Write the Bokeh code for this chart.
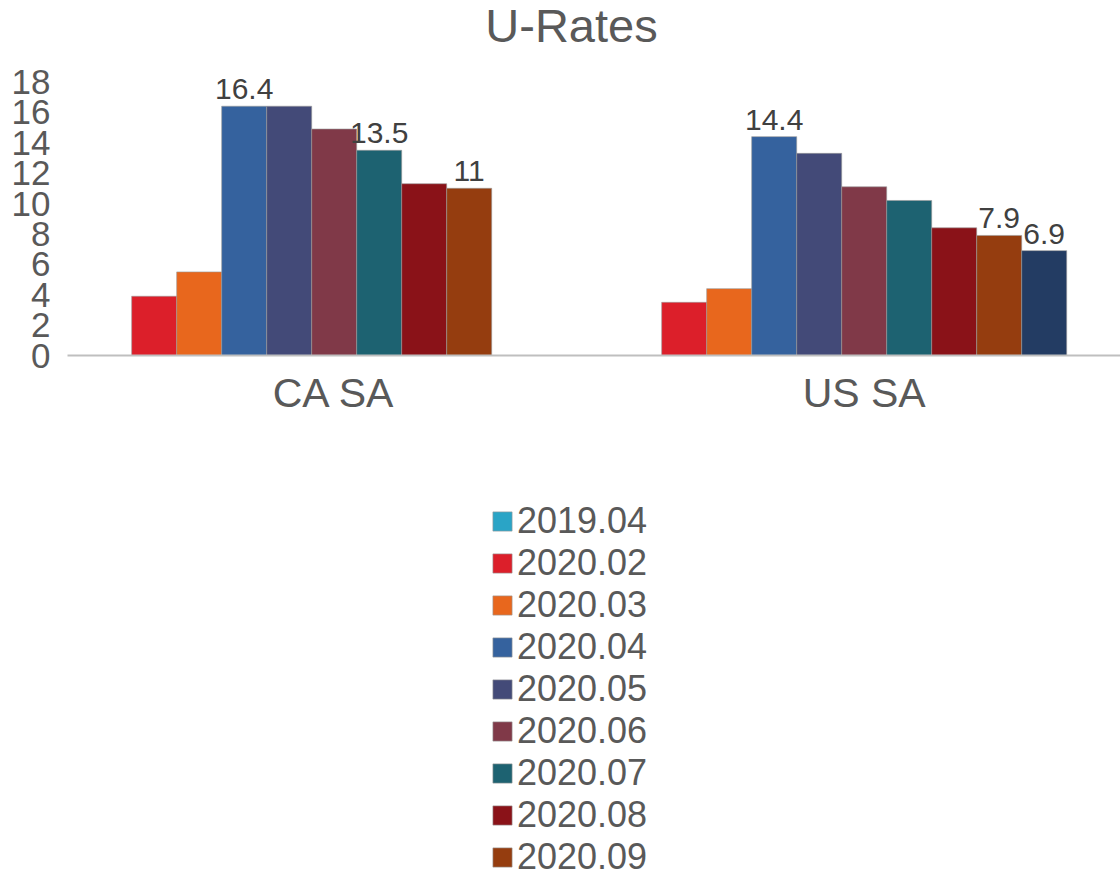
from bokeh.plotting import figure
from bokeh.models import (ColumnDataSource, Range1d, FixedTicker, Legend, LegendItem,
                          Label)
from bokeh.core.properties import value
from bokeh.embed import file_html
from bokeh.resources import INLINE

# ---- data -------------------------------------------------------------
categories = ["CA SA", "US SA"]
series = ["2019.04", "2020.02", "2020.03", "2020.04", "2020.05", "2020.06",
          "2020.07", "2020.08", "2020.09", "2020.10", "2020.11"]
ca_sa = [None, 3.9, 5.5, 16.4, 16.4, 14.9, 13.5, 11.3, 11.0, None, None]
us_sa = [None, 3.5, 4.4, 14.4, 13.3, 11.1, 10.2, 8.4, 7.9, 6.9, None]
colors = ["#2aa4c6", "#dc1f2a", "#e8671d", "#35629e", "#434a78", "#803948",
          "#1d6271", "#8a1218", "#953d0f", "#233c63", "#5f8f3c"]
y_ticks = [0, 2, 4, 6, 8, 10, 12, 14, 16, 18]
# bars that carry a value label: (category, series)
labelled = [("CA SA", "2020.04"), ("CA SA", "2020.07"), ("CA SA", "2020.09"),
            ("US SA", "2020.04"), ("US SA", "2020.09"), ("US SA", "2020.10")]
# legend rows that fit on the page
legend_series = series[:9]
title = "U-Rates"

values = {"CA SA": ca_sa, "US SA": us_sa}

FONT = "Liberation Sans"
TEXT = "#595959"

# The plotting frame spans the whole canvas; the value axis and the category
# baseline sit inside it, the title above and the legend below the columns.
AXIS_X0 = -0.0032          # where the baseline begins (category units)
X_END = 1.9836
p = figure(width=1120, height=879, output_backend="svg", toolbar_location=None,
           x_range=Range1d(-0.1296, X_END), y_range=Range1d(-34.47, 23.355),
           min_border_left=0, min_border_right=0, min_border_top=0,
           min_border_bottom=0)
p.outline_line_color = None
p.background_fill_color = "white"
p.border_fill_color = "white"
p.xgrid.visible = False
p.ygrid.visible = False

# clustered columns: each category is one unit wide, the cluster fills 93.4% of it
n = len(series)
slot = 0.934 / n
cat_pos = [i + 0.5 for i in range(len(categories))]

items = []
for j, (name, col) in enumerate(zip(series, colors)):
    xs = [c + (j - (n - 1) / 2) * slot for c in cat_pos]
    tops = [float("nan") if values[c][j] is None else values[c][j] for c in categories]
    src = ColumnDataSource(dict(x=xs, top=tops))
    r = p.vbar(x="x", top="top", bottom=0, width=slot, source=src,
               fill_color=col, line_color="#9a9a9a", line_width=1, line_alpha=0.6)
    if name in legend_series:
        items.append(LegendItem(label=name, renderers=[r]))

# value labels
lx, ly, lt = [], [], []
for c, s in labelled:
    j = series.index(s)
    v = values[c][j]
    lx.append(cat_pos[categories.index(c)] + (j - (n - 1) / 2) * slot)
    ly.append(v)
    lt.append(f"{v:g}")
p.text(x=lx, y=ly, text=lt, text_align="center", text_baseline="bottom",
       y_offset=-7, text_font=value(FONT), text_font_size="30px",
       text_color="#404040")

# axes
xa = p.xaxis[0]
xa.fixed_location = 0
xa.bounds = (AXIS_X0, X_END)
xa.ticker = FixedTicker(ticks=cat_pos)
xa.major_label_overrides = {cp: c for cp, c in zip(cat_pos, categories)}
xa.major_label_text_font = FONT
xa.major_label_text_font_size = "41px"
xa.major_label_text_color = TEXT
xa.major_tick_line_color = None
xa.minor_tick_line_color = None
xa.axis_line_color = "#bfbfbf"
xa.axis_line_width = 2
xa.major_label_standoff = 8

ya = p.yaxis[0]
ya.fixed_location = AXIS_X0
ya.bounds = (0, 18)
ya.ticker = FixedTicker(ticks=y_ticks)
ya.major_label_standoff = 11
ya.major_label_text_font = FONT
ya.major_label_text_font_size = "35px"
ya.major_label_text_color = TEXT
ya.axis_line_color = None
ya.major_tick_line_color = None
ya.minor_tick_line_color = None

# chart title, centred over the columns
p.add_layout(Label(x=571, y=854, x_units="screen", y_units="screen", text=title,
                   text_align="center", text_baseline="alphabetic",
                   text_font=FONT, text_font_size="47px", text_color=TEXT))

legend = Legend(items=items, location=(490, 1), orientation="vertical",
                padding=0, margin=0, spacing=0, glyph_width=24, glyph_height=24,
                label_height=42, label_standoff=3,
                label_text_font=FONT, label_text_font_size="36px",
                label_text_color=TEXT, border_line_color=None,
                background_fill_alpha=0)
p.add_layout(legend, "center")

open("out.html", "w").write(file_html(p, INLINE))
